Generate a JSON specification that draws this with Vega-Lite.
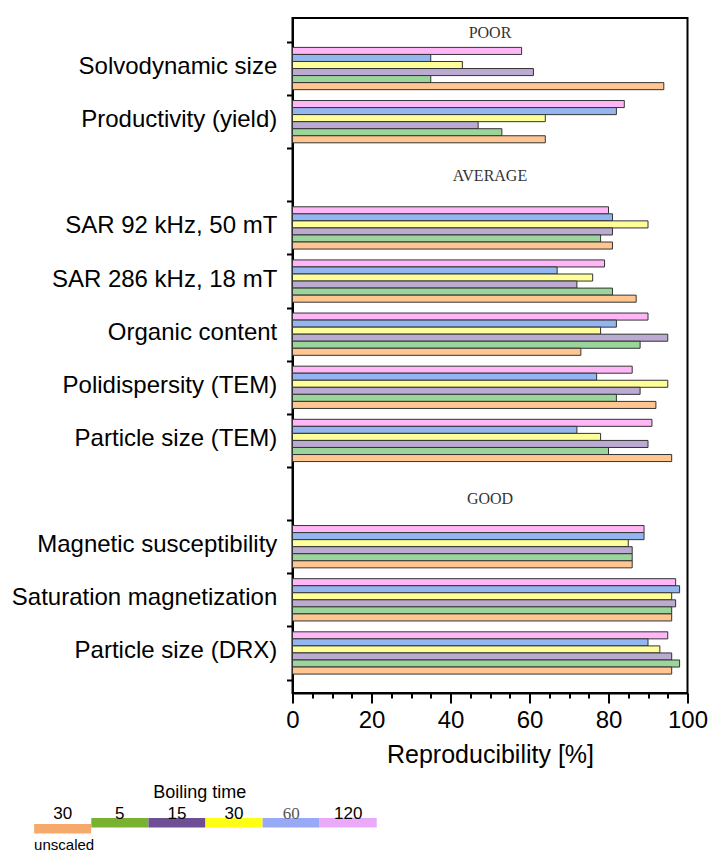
{
  "$schema": "https://vega.github.io/schema/vega-lite/v6.json",
  "background": "white",
  "padding": {"left": 9.5, "top": 5, "right": 5, "bottom": 0},
  "config": {"font": "Liberation Sans", "view": {"stroke": null}},
  "spacing": 15,
  "resolve": {"scale": {"color": "independent", "x": "independent", "y": "independent"}},
  "vconcat": [
    {
      "width": 395,
      "height": 675,
      "view": {"stroke": "black", "strokeWidth": 2},
      "data": {"values": [
        {"parameter": "Solvodynamic size", "time": "120", "value": 58},
        {"parameter": "Solvodynamic size", "time": "60", "value": 35},
        {"parameter": "Solvodynamic size", "time": "30", "value": 43},
        {"parameter": "Solvodynamic size", "time": "15", "value": 61},
        {"parameter": "Solvodynamic size", "time": "5", "value": 35},
        {"parameter": "Solvodynamic size", "time": "30 unscaled", "value": 94},
        {"parameter": "Productivity (yield)", "time": "120", "value": 84},
        {"parameter": "Productivity (yield)", "time": "60", "value": 82},
        {"parameter": "Productivity (yield)", "time": "30", "value": 64},
        {"parameter": "Productivity (yield)", "time": "15", "value": 47},
        {"parameter": "Productivity (yield)", "time": "5", "value": 53},
        {"parameter": "Productivity (yield)", "time": "30 unscaled", "value": 64},
        {"parameter": "SAR 92 kHz, 50 mT", "time": "120", "value": 80},
        {"parameter": "SAR 92 kHz, 50 mT", "time": "60", "value": 81},
        {"parameter": "SAR 92 kHz, 50 mT", "time": "30", "value": 90},
        {"parameter": "SAR 92 kHz, 50 mT", "time": "15", "value": 81},
        {"parameter": "SAR 92 kHz, 50 mT", "time": "5", "value": 78},
        {"parameter": "SAR 92 kHz, 50 mT", "time": "30 unscaled", "value": 81},
        {"parameter": "SAR 286 kHz, 18 mT", "time": "120", "value": 79},
        {"parameter": "SAR 286 kHz, 18 mT", "time": "60", "value": 67},
        {"parameter": "SAR 286 kHz, 18 mT", "time": "30", "value": 76},
        {"parameter": "SAR 286 kHz, 18 mT", "time": "15", "value": 72},
        {"parameter": "SAR 286 kHz, 18 mT", "time": "5", "value": 81},
        {"parameter": "SAR 286 kHz, 18 mT", "time": "30 unscaled", "value": 87},
        {"parameter": "Organic content", "time": "120", "value": 90},
        {"parameter": "Organic content", "time": "60", "value": 82},
        {"parameter": "Organic content", "time": "30", "value": 78},
        {"parameter": "Organic content", "time": "15", "value": 95},
        {"parameter": "Organic content", "time": "5", "value": 88},
        {"parameter": "Organic content", "time": "30 unscaled", "value": 73},
        {"parameter": "Polidispersity (TEM)", "time": "120", "value": 86},
        {"parameter": "Polidispersity (TEM)", "time": "60", "value": 77},
        {"parameter": "Polidispersity (TEM)", "time": "30", "value": 95},
        {"parameter": "Polidispersity (TEM)", "time": "15", "value": 88},
        {"parameter": "Polidispersity (TEM)", "time": "5", "value": 82},
        {"parameter": "Polidispersity (TEM)", "time": "30 unscaled", "value": 92},
        {"parameter": "Particle size (TEM)", "time": "120", "value": 91},
        {"parameter": "Particle size (TEM)", "time": "60", "value": 72},
        {"parameter": "Particle size (TEM)", "time": "30", "value": 78},
        {"parameter": "Particle size (TEM)", "time": "15", "value": 90},
        {"parameter": "Particle size (TEM)", "time": "5", "value": 80},
        {"parameter": "Particle size (TEM)", "time": "30 unscaled", "value": 96},
        {"parameter": "Magnetic susceptibility", "time": "120", "value": 89},
        {"parameter": "Magnetic susceptibility", "time": "60", "value": 89},
        {"parameter": "Magnetic susceptibility", "time": "30", "value": 85},
        {"parameter": "Magnetic susceptibility", "time": "15", "value": 86},
        {"parameter": "Magnetic susceptibility", "time": "5", "value": 86},
        {"parameter": "Magnetic susceptibility", "time": "30 unscaled", "value": 86},
        {"parameter": "Saturation magnetization", "time": "120", "value": 97},
        {"parameter": "Saturation magnetization", "time": "60", "value": 98},
        {"parameter": "Saturation magnetization", "time": "30", "value": 96},
        {"parameter": "Saturation magnetization", "time": "15", "value": 97},
        {"parameter": "Saturation magnetization", "time": "5", "value": 96},
        {"parameter": "Saturation magnetization", "time": "30 unscaled", "value": 96},
        {"parameter": "Particle size (DRX)", "time": "120", "value": 95},
        {"parameter": "Particle size (DRX)", "time": "60", "value": 90},
        {"parameter": "Particle size (DRX)", "time": "30", "value": 93},
        {"parameter": "Particle size (DRX)", "time": "15", "value": 96},
        {"parameter": "Particle size (DRX)", "time": "5", "value": 98},
        {"parameter": "Particle size (DRX)", "time": "30 unscaled", "value": 96}
      ]},
      "layer": [
        {
          "mark": {"type": "bar", "stroke": "#333333", "strokeWidth": 1},
          "encoding": {
            "y": {
              "field": "parameter", "type": "nominal", "title": null,
              "scale": {
                "domain": ["Solvodynamic size", "Productivity (yield)", "AVERAGE", "SAR 92 kHz, 50 mT", "SAR 286 kHz, 18 mT", "Organic content", "Polidispersity (TEM)", "Particle size (TEM)", "GOOD", "Magnetic susceptibility", "Saturation magnetization", "Particle size (DRX)"],
                "paddingInner": 0, "paddingOuter": 0.3525, "align": 0.64
              },
              "axis": {
                "labelExpr": "datum.value == 'AVERAGE' || datum.value == 'GOOD' ? '' : datum.value",
                "labelFontSize": 24, "labelColor": "black", "labelPadding": 9.7, "labelLimit": 400, "labelOffset": -2,
                "tickBand": "extent", "tickSize": 6, "tickWidth": 2, "tickColor": "black",
                "domainColor": "black", "domainWidth": 2
              }
            },
            "yOffset": {
              "field": "time", "type": "nominal",
              "scale": {"domain": ["120", "60", "30", "15", "5", "30 unscaled"], "paddingInner": 0, "paddingOuter": 0.77}
            },
            "x": {
              "field": "value", "type": "quantitative", "title": "Reproducibility [%]",
              "scale": {"domain": [0, 100], "nice": false},
              "axis": {
                "values": [0, 5, 10, 15, 20, 25, 30, 35, 40, 45, 50, 55, 60, 65, 70, 75, 80, 85, 90, 95, 100],
                "labelExpr": "datum.value % 20 === 0 ? datum.label : ''",
                "tickSize": {"condition": {"test": "datum.value % 20 === 0", "value": 10}, "value": 5},
                "tickWidth": 2, "tickColor": "black", "domainColor": "black", "domainWidth": 2,
                "labelFontSize": 24, "labelColor": "black", "labelPadding": 5, "labelFlush": false, "labelOverlap": false,
                "titleFontSize": 25, "titleFontWeight": "normal", "titleColor": "black", "titlePadding": 10,
                "grid": false
              }
            },
            "color": {
              "field": "time", "type": "nominal", "legend": null,
              "scale": {"domain": ["120", "60", "30", "15", "5", "30 unscaled"], "range": ["#ffb6f7", "#94b6f0", "#ffff99", "#bbaad2", "#9bd59b", "#ffc691"]}
            }
          }
        },
        {
          "data": {"values": [{"label": "POOR", "at": "Solvodynamic size"}]},
          "mark": {"type": "text", "font": "Liberation Serif", "fontSize": 16, "color": "#333333", "dy": -9},
          "encoding": {
            "y": {"field": "at", "type": "nominal", "bandPosition": 0, "title": null},
            "text": {"field": "label"}
          }
        },
        {
          "data": {"values": [{"label": "AVERAGE"}]},
          "mark": {"type": "text", "font": "Liberation Serif", "fontSize": 16, "color": "#333333", "dy": 1},
          "encoding": {
            "y": {"field": "label", "type": "nominal", "title": null},
            "text": {"field": "label"}
          }
        },
        {
          "data": {"values": [{"label": "GOOD"}]},
          "mark": {"type": "text", "font": "Liberation Serif", "fontSize": 16, "color": "#333333", "dy": 5},
          "encoding": {
            "y": {"field": "label", "type": "nominal", "title": null},
            "text": {"field": "label"}
          }
        }
      ]
    },
    {
      "width": 84,
      "height": 9.4,
      "data": {"values": [
        {"key": "30 unscaled", "label": "30"},
        {"key": "5", "label": "5"},
        {"key": "15", "label": "15"},
        {"key": "30", "label": "30"},
        {"key": "60", "label": "60"},
        {"key": "120", "label": "120"}
      ]},
      "layer": [
        {
          "transform": [{"filter": "datum.key != '30 unscaled'"}],
          "mark": {"type": "tick", "orient": "horizontal", "thickness": 9.4, "size": 57, "opacity": 1},
          "encoding": {
            "x": {"field": "key", "type": "nominal", "axis": null,
              "scale": {"domain": ["30 unscaled", "5", "15", "30", "60", "120"], "paddingInner": 0, "paddingOuter": 0, "range": [-258.4, 84.3]}},
            "color": {"field": "key", "type": "nominal", "legend": null,
              "scale": {"domain": ["30 unscaled", "5", "15", "30", "60", "120"], "range": ["#f5a96a", "#79b22f", "#6e4f95", "#ffff14", "#98aaf6", "#eaa9f9"]}}
          }
        },
        {
          "transform": [{"filter": "datum.key == '30 unscaled'"}],
          "mark": {"type": "tick", "orient": "horizontal", "thickness": 9.4, "size": 57, "opacity": 1, "yOffset": 6},
          "encoding": {
            "x": {"field": "key", "type": "nominal", "axis": null},
            "color": {"field": "key", "type": "nominal", "legend": null}
          }
        },
        {
          "transform": [{"filter": "datum.label != '60'"}],
          "mark": {"type": "text", "fontSize": 17, "baseline": "alphabetic", "dy": -4, "color": "black"},
          "encoding": {
            "x": {"field": "key", "type": "nominal", "axis": null},
            "text": {"field": "label"}
          }
        },
        {
          "transform": [{"filter": "datum.label == '60'"}],
          "mark": {"type": "text", "font": "Liberation Serif", "fontSize": 17, "baseline": "alphabetic", "dy": -4, "color": "#555555"},
          "encoding": {
            "x": {"field": "key", "type": "nominal", "axis": null},
            "text": {"field": "label"}
          }
        },
        {
          "data": {"values": [{"title": "Boiling time"}]},
          "mark": {"type": "text", "fontSize": 18, "align": "left", "baseline": "alphabetic", "dy": -25, "dx": 5, "color": "black"},
          "encoding": {
            "x": {"datum": "15", "type": "nominal", "bandPosition": 0, "axis": null},
            "text": {"field": "title"}
          }
        },
        {
          "data": {"values": [{"key": "30 unscaled", "note": "unscaled"}]},
          "mark": {"type": "text", "fontSize": 15, "align": "left", "baseline": "alphabetic", "dy": 27, "color": "black"},
          "encoding": {
            "x": {"field": "key", "type": "nominal", "bandPosition": 0, "axis": null},
            "text": {"field": "note"}
          }
        }
      ]
    }
  ]
}
